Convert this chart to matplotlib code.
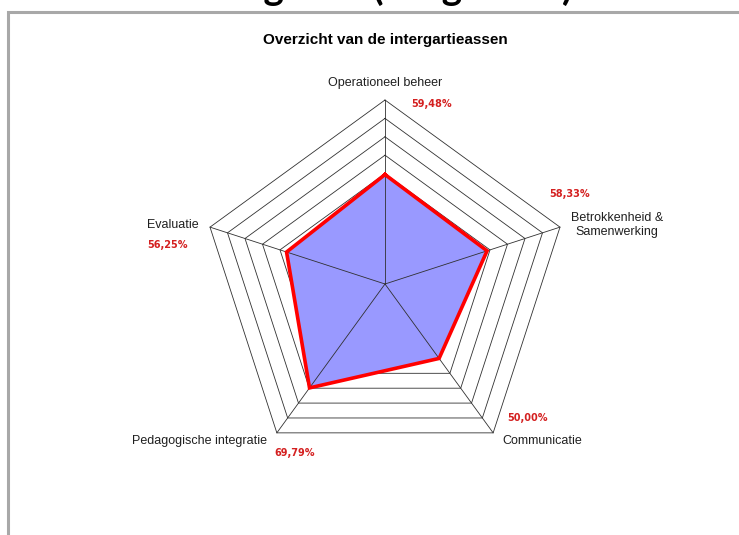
import numpy as np
import matplotlib
matplotlib.use("Agg")
import matplotlib.pyplot as plt

# data
axes_labels = ["Operationeel beheer", "Betrokkenheid &\nSamenwerking", "Communicatie",
               "Pedagogische integratie", "Evaluatie"]
scores = [59.48, 58.33, 50.00, 69.79, 56.25]
score_labels = ["59,48%", "58,33%", "50,00%", "69,79%", "56,25%"]
grid_levels = [10, 20, 30, 40, 50, 60, 70, 80, 90, 100]

W, H = 739, 535
fig = plt.figure(figsize=(W / 100, H / 100), dpi=100)
ax = fig.add_axes([0, 0, 1, 1])
ax.set_xlim(0, W)
ax.set_ylim(H, 0)
ax.axis("off")

cx, cy, R = 385, 284, 184
n = len(scores)
ang = np.pi / 2 - np.arange(n) * 2 * np.pi / n


def pts(vals):
    v = np.asarray(vals, dtype=float) / 100 * R
    x = cx + v * np.cos(ang)
    y = cy - v * np.sin(ang)
    return np.append(x, x[0]), np.append(y, y[0])


# pentagon rings
for lv in grid_levels:
    x, y = pts([lv] * n)
    ax.plot(x, y, color="#303030", lw=0.6, zorder=1)

# filled area
x, y = pts(scores)
ax.fill(x, y, color="#9999ff", zorder=2, lw=0)

# spokes
ox, oy = pts([100] * n)
for i in range(n):
    ax.plot([cx, ox[i]], [cy, oy[i]], color="#303030", lw=0.6, zorder=3)

ax.plot(x, y, color="#ff0000", lw=2.6, zorder=4, solid_joinstyle="miter")

# category labels
lab_pos = [(385, 83, "center"), (617, 225, "center"), (542, 441, "center"),
           (200, 441, "center"), (173, 225, "center")]
for (lx, ly, ha), txt in zip(lab_pos, axes_labels):
    ax.text(lx, ly, txt, ha=ha, va="center", fontsize=9, family="Liberation Sans",
            color="#202020", linespacing=1.15)

pct_pos = [(432, 104), (570, 194), (528, 418), (295, 453), (168, 245)]
for (px, py), txt in zip(pct_pos, score_labels):
    ax.text(px, py, txt, ha="center", va="center", fontsize=7, fontweight="bold",
            family="DejaVu Sans", color="#d42020")

ax.text(385, 40, "Overzicht van de intergartieassen", ha="center", va="center",
        fontsize=11, fontweight="bold", family="Liberation Sans", color="#000000")

# chart frame
ax.plot([8, 8, W + 5], [H + 5, 12, 12], color="#a8a8a8", lw=2.2, zorder=5,
        solid_joinstyle="miter")

# heading of the page, cut off at the top
ax.text(573, 0, "Resultaten van de assen van ICT-integratie (zie grafiek)", ha="right",
        va="baseline", fontsize=28, fontweight="bold", family="Lato", color="#000000")

fig.savefig("out.png", dpi=100)
